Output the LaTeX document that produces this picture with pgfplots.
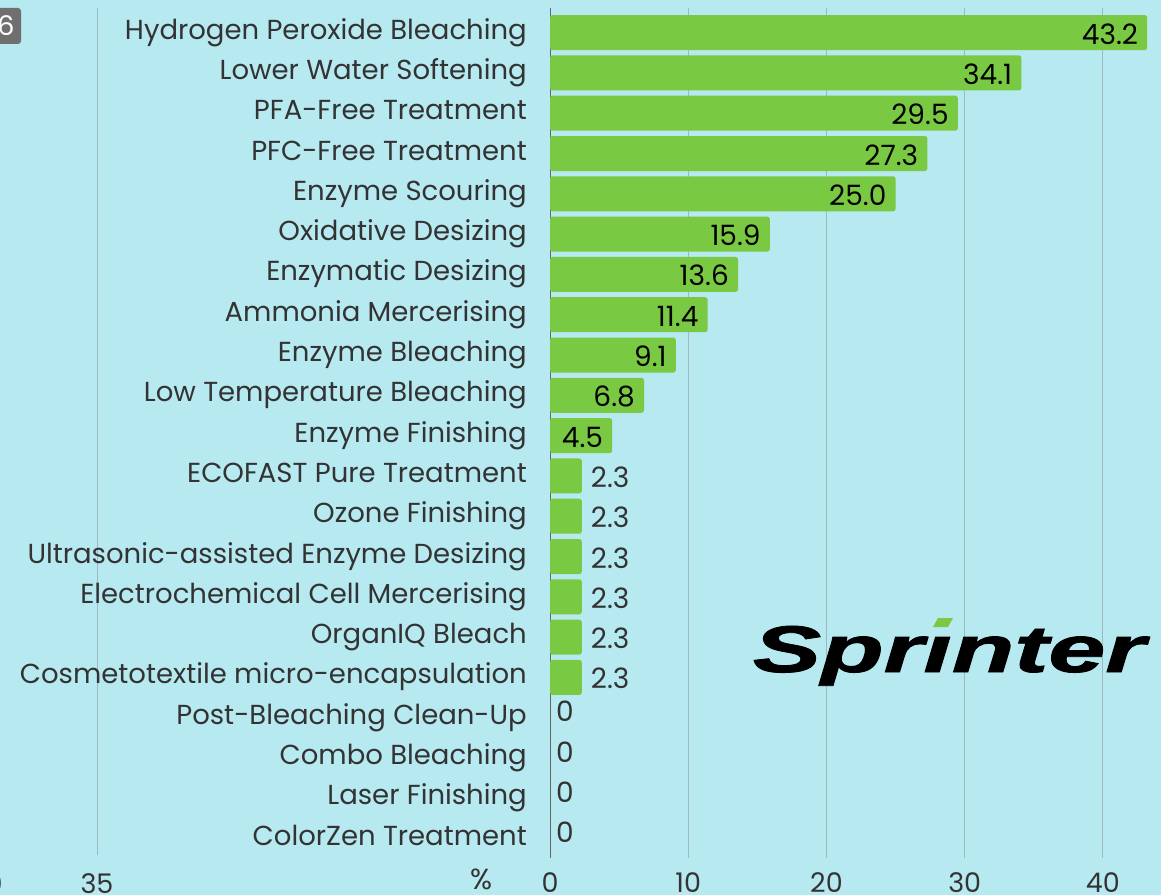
\documentclass[border=0pt]{standalone}
\usepackage{pgfplots}
\pgfplotsset{compat=1.18}
\usepackage{fontspec}
\setmainfont{Poppins}
\newfontfamily\logofont[FakeBold=1.2]{Liberation Sans}
\definecolor{bg}{HTML}{B7E9F1}
\definecolor{bargreen}{HTML}{7AC943}
\definecolor{txt}{HTML}{333333}
\definecolor{gridc}{HTML}{9CB9BF}
\definecolor{boxgray}{HTML}{6F6F6F}
\begin{document}
\begin{tikzpicture}[x=1pt,y=1pt]
\fill[bg] (0,0) rectangle (1161,895);
\useasboundingbox (0,0) rectangle (1161,895);
% remnants of a neighbouring chart
\draw[gridc, line width=1pt] (97,40) -- (97,887);
\node[txt, font=\fontsize{27}{27}\selectfont, anchor=north, inner sep=0pt] at (97,22) {35};
\node[txt, font=\fontsize{27}{27}\selectfont, anchor=north, inner sep=0pt] at (-6,22) {0};
\node[txt, font=\fontsize{29}{29}\selectfont] at (481,16) {\%};
\fill[boxgray, rounded corners=3pt] (-10,851) rectangle (21,887);
\node[white, font=\fontsize{27}{27}\selectfont] at (6,869) {6};
\begin{axis}[
  at={(550pt,37pt)}, anchor=south west,
  scale only axis, width=611pt, height=850pt,
  xmin=0, xmax=44.2, ymin=-0.61, ymax=20.48,
  y dir=reverse,
  xbar, bar width=35pt, bar shift=0pt,
  axis line style={draw=none},
  major tick length=0pt,
  xtick={0,10,20,30,40},
  xmajorgrids,
  grid style={gridc, line width=1pt},
  extra x ticks={0}, extra x tick labels={},
  extra x tick style={grid style={color=black!60, line width=1pt}},
  ytick={0,...,20},
  yticklabels={Hydrogen Peroxide Bleaching, Lower Water Softening, PFA-Free Treatment, PFC-Free Treatment, Enzyme Scouring, Oxidative Desizing, Enzymatic Desizing, Ammonia Mercerising, Enzyme Bleaching, Low Temperature Bleaching, Enzyme Finishing, ECOFAST Pure Treatment, Ozone Finishing, Ultrasonic-assisted Enzyme Desizing, Electrochemical Cell Mercerising, OrganIQ Bleach, Cosmetotextile micro-encapsulation, Post-Bleaching Clean-Up, Combo Bleaching, Laser Finishing, ColorZen Treatment},
  yticklabel style={txt, font=\fontsize{27.5}{27.5}\selectfont, inner sep=0pt, anchor=base east, xshift=-23pt, yshift=-6.5pt},
  xticklabel style={txt, font=\fontsize{27}{27}\selectfont, inner sep=0pt, anchor=north, yshift=-14pt},
  /pgf/number format/assume math mode=true,
  clip=false,
]
\addplot[fill=bargreen, draw=none, rounded corners=2.5pt,
  nodes near coords, /pgf/number format/.cd, fixed, fixed zerofill, precision=1, /pgfplots/.cd,
  every node near coord/.append style={anchor=base east, inner sep=0pt, xshift=-9pt, yshift=-11.5pt, text=black, font=\fontsize{28}{28}\selectfont}]
 coordinates {(43.2,0) (34.1,1) (29.5,2) (27.3,3) (25.0,4) (15.9,5) (13.6,6) (11.4,7) (9.1,8) (6.8,9) (4.5,10)};
\addplot[fill=bargreen, draw=none, rounded corners=2.5pt,
  nodes near coords, /pgf/number format/.cd, fixed, fixed zerofill, precision=1, /pgfplots/.cd,
  every node near coord/.append style={anchor=base west, inner sep=0pt, xshift=9pt, yshift=-11.5pt, text=txt, font=\fontsize{28}{28}\selectfont}]
 coordinates {(2.3,11) (2.3,12) (2.3,13) (2.3,14) (2.3,15) (2.3,16)};
\addplot[fill=none, draw=none,
  nodes near coords,
  every node near coord/.append style={anchor=base west, inner sep=0pt, xshift=6pt, yshift=-4pt, text=txt, font=\fontsize{28}{28}\selectfont}]
 coordinates {(0,17) (0,18) (0,19) (0,20)};
\end{axis}
% logo
\node[anchor=base, inner sep=0pt, font=\logofont\bfseries\itshape\fontsize{66}{66}\selectfont, xscale=1.55] at (949,223) {Spr\i nter};
\fill[bargreen] (933,268) -- (948,268) -- (953,277) -- (938,277) -- cycle;
\end{tikzpicture}
\end{document}
